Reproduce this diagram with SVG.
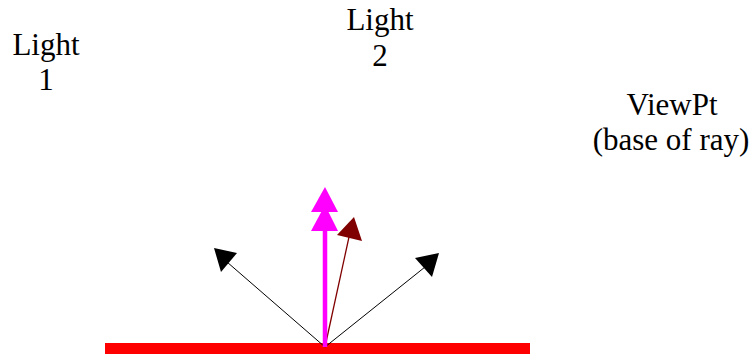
<svg xmlns="http://www.w3.org/2000/svg" width="755" height="356" viewBox="0 0 755 356">
<style>
.lbl{font-family:"Liberation Serif","Times New Roman",serif;font-size:31px;fill:#000;text-anchor:middle}
</style>
<rect width="755" height="356" fill="#fff"/>
<g id="surface"><rect x="105" y="343" width="425" height="11" fill="#ff0000"/></g>
<g id="light1"><text class="lbl" x="46" y="55">Light</text><text class="lbl" x="46" y="90">1</text></g>
<g id="light2"><text class="lbl" x="380" y="30">Light</text><text class="lbl" x="380" y="66">2</text></g>
<g id="viewpt"><text class="lbl" x="672" y="115">ViewPt</text><text class="lbl" x="671" y="150">(base of ray)</text></g>
<g id="connectors">
<line x1="325" y1="347" x2="227" y2="262" stroke="#000" stroke-width="1"/>
<polygon points="214,248 237,253 221,272" fill="#000"/>
<line x1="325" y1="347" x2="425" y2="267" stroke="#000" stroke-width="1"/>
<polygon points="439,253 415,258 432,277" fill="#000"/>
<line x1="325" y1="347" x2="349" y2="237" stroke="#800000" stroke-width="1.3"/>
<polygon points="354,217 337,235 362,241" fill="#800000"/>
<line x1="325" y1="347" x2="325" y2="215" stroke="#ff00ff" stroke-width="4.5"/>
<polygon points="325,187 311,212 338,212" fill="#ff00ff"/>
<polygon points="325,205 311,231 338,231" fill="#ff00ff"/>
</g>
</svg>
